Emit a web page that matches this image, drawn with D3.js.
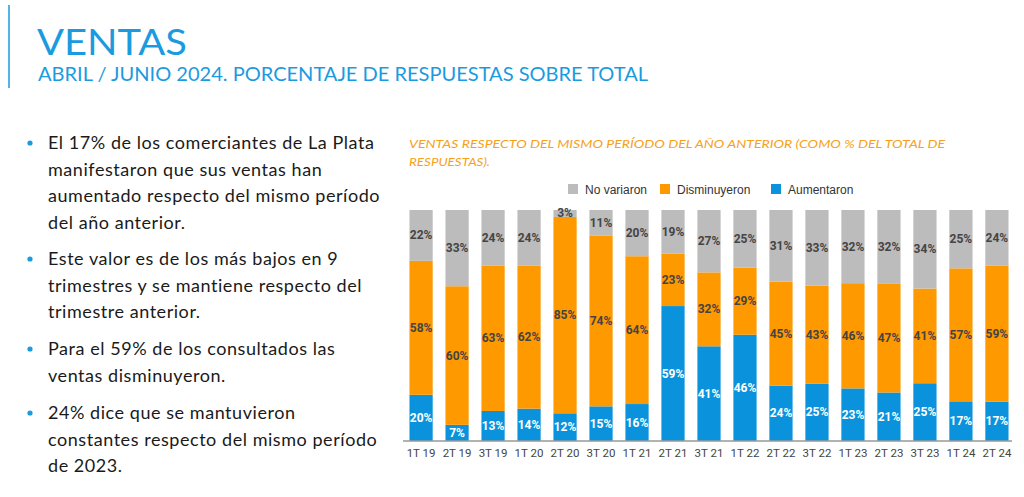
<!DOCTYPE html>
<html><head><meta charset="utf-8">
<script src="https://cdn.jsdelivr.net/npm/d3@7/dist/d3.min.js"></script>
<style>
html,body{margin:0;padding:0;background:#fff;}
svg{display:block;}
</style></head>
<body>
<svg id="chart" width="1024" height="497"></svg>
<script>
const categories = ["1T 19","2T 19","3T 19","1T 20","2T 20","3T 20","1T 21","2T 21","3T 21","1T 22","2T 22","3T 22","1T 23","2T 23","3T 23","1T 24","2T 24"];
const aumentaron   = [20, 7,13,14,12,15,16,59,41,46,24,25,23,21,25,17,17];
const disminuyeron = [58,60,63,62,85,74,64,23,32,29,45,43,46,47,41,57,59];
const noVariaron   = [22,33,24,24, 3,11,20,19,27,25,31,33,32,32,34,25,24];
const seriesNames = ["Aumentaron","Disminuyeron","No variaron"];
const legendOrder = ["No variaron","Disminuyeron","Aumentaron"];
const colors = {"Aumentaron":"#0a93dc","Disminuyeron":"#ff9900","No variaron":"#bcbcbc"};
const bullets = [
  ["El 17% de los comerciantes de La Plata","manifestaron que sus ventas han","aumentado respecto del mismo período","del año anterior."],
  ["Este valor es de los más bajos en 9","trimestres y se mantiene respecto del","trimestre anterior."],
  ["Para el 59% de los consultados las","ventas disminuyeron."],
  ["24% dice que se mantuvieron","constantes respecto del mismo período","de 2023."]
];

(function(){
const svg = d3.select("#chart");
const blue = "#1a9be0";

// header
svg.append("line").attr("x1",9).attr("x2",9).attr("y1",5).attr("y2",88).attr("stroke",blue).attr("stroke-width",1.5);
svg.append("text").attr("x",37).attr("y",55).text("VENTAS")
  .attr("font-family","Lato, 'Open Sans', sans-serif").attr("font-size",37).attr("fill",blue)
  .attr("textLength",150).attr("lengthAdjust","spacingAndGlyphs");
svg.append("text").attr("x",38).attr("y",81).text("ABRIL / JUNIO 2024. PORCENTAJE DE RESPUESTAS SOBRE TOTAL")
  .attr("font-family","Lato, 'Open Sans', sans-serif").attr("font-size",18.5).attr("fill",blue)
  .attr("textLength",610).attr("lengthAdjust","spacingAndGlyphs");

// bullets
const lineH = 26.7;
const bulletStarts = [149, 265, 355, 419];
bullets.forEach((lines,i)=>{
  const by = bulletStarts[i];
  svg.append("circle").attr("cx",30).attr("cy",by-6).attr("r",2.6).attr("fill","#1a9be0");
  lines.forEach((ln,j)=>{
    svg.append("text").attr("x",48).attr("y",by + j*lineH).text(ln)
      .attr("font-family","Lato, 'Open Sans', sans-serif").attr("font-size",18).attr("letter-spacing",0.55).attr("fill","#1a1a1a");
  });
});

// chart title
const titleColor = "#f7a11a";
svg.append("text").attr("x",409).attr("y",148).text("VENTAS RESPECTO DEL MISMO PERÍODO DEL AÑO ANTERIOR (COMO % DEL TOTAL DE")
  .attr("font-family","Lato, 'Open Sans', sans-serif").attr("font-style","italic").attr("font-size",11.5).attr("fill",titleColor)
  .attr("textLength",536).attr("lengthAdjust","spacingAndGlyphs");
svg.append("text").attr("x",409).attr("y",166).text("RESPUESTAS).")
  .attr("font-family","Lato, 'Open Sans', sans-serif").attr("font-style","italic").attr("font-size",11.5).attr("fill",titleColor)
  .attr("textLength",81).attr("lengthAdjust","spacingAndGlyphs");

// legend
const legendX = [568, 660, 771];
legendOrder.forEach((name,i)=>{
  const g = svg.append("g").attr("transform",`translate(${legendX[i]},184)`);
  g.append("rect").attr("width",10).attr("height",10).attr("fill",colors[name]);
  g.append("text").attr("x",17).attr("y",9.5).text(name)
    .attr("font-family","'Liberation Sans', Arial, sans-serif").attr("font-size",12).attr("fill","#333");
});

// chart
const pLeft = 403, pRight = 1015, pTop = 210, pBottom = 441;
const x = d3.scaleBand().domain(categories).range([pLeft,pRight]).paddingInner(0.355).paddingOuter(0.18);
const yS = d3.scaleLinear().domain([0,1]).range([pBottom,pTop]);

const rows = categories.map((c,i)=>{
  const tot = aumentaron[i]+disminuyeron[i]+noVariaron[i];
  return {cat:c, "Aumentaron":aumentaron[i]/tot, "Disminuyeron":disminuyeron[i]/tot, "No variaron":noVariaron[i]/tot,
          raw:{"Aumentaron":aumentaron[i],"Disminuyeron":disminuyeron[i],"No variaron":noVariaron[i]}};
});
const stack = d3.stack().keys(seriesNames)(rows);

const gBars = svg.append("g");
stack.forEach(layer=>{
  const key = layer.key;
  gBars.selectAll(null).data(layer).enter().append("rect")
    .attr("x",d=>x(d.data.cat)).attr("width",x.bandwidth())
    .attr("y",d=>yS(d[1])).attr("height",d=>yS(d[0])-yS(d[1]))
    .attr("fill",colors[key]);
});
stack.forEach(layer=>{
  const key = layer.key;
  gBars.selectAll(null).data(layer).enter().append("text")
    .attr("x",d=>x(d.data.cat)+x.bandwidth()/2)
    .attr("y",d=>(yS(d[0])+yS(d[1]))/2 + 4)
    .attr("text-anchor","middle")
    .attr("font-family","Roboto, Arial, sans-serif").attr("font-size",12).attr("font-weight","bold")
    .attr("fill", key==="Aumentaron" ? "#ffffff" : "#444")
    .text(d=>d.data.raw[key]+"%");
});

// axis
const xAxis = d3.axisBottom(x).tickSize(0).tickPadding(8);
const ax = svg.append("g").attr("transform",`translate(0,${pBottom})`).call(xAxis);
ax.select(".domain").attr("stroke","#999").attr("stroke-width",1.5).attr("d",`M${pLeft},0H${pRight-3}`);
ax.selectAll("text").attr("font-family","Roboto, Arial, sans-serif").attr("font-size",11.5).attr("fill","#444");
})();
</script>
</body></html>
